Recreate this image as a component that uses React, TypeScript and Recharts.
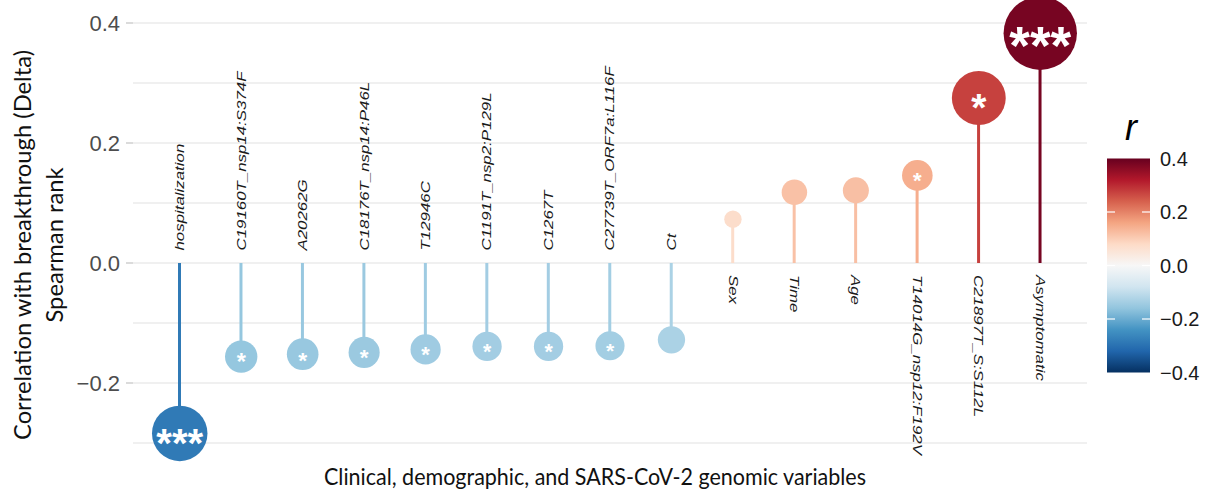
import { type CSSProperties } from 'react'
import { ComposedChart, Bar, Line, Cell, XAxis, YAxis, CartesianGrid } from 'recharts'

// variables, ordered by Spearman r
const variables = [
  'hospitalization',
  'C19160T_nsp14:S374F',
  'A20262G',
  'C18176T_nsp14:P46L',
  'T12946C',
  'C1191T_nsp2:P129L',
  'C1267T',
  'C27739T_ORF7a:L116F',
  'Ct',
  'Sex',
  'Time',
  'Age',
  'T14014G_nsp12:F192V',
  'C21897T_S:S112L',
  'Asymptomatic',
]
const spearmanR = [
  -0.284, -0.156, -0.152, -0.149, -0.144, -0.139, -0.139, -0.138, -0.128,
  0.073, 0.118, 0.121, 0.146, 0.275, 0.383,
]
const significance = ['***', '*', '*', '*', '*', '*', '*', '*', '', '', '', '', '*', '*', '***']

const yTicks = [-0.2, 0, 0.2, 0.4]
const gridValues = [-0.3, -0.2, -0.1, 0, 0.1, 0.2, 0.3, 0.4]
const legendTicks = [0.4, 0.2, 0, -0.2, -0.4]

const data = variables.map((name, i) => ({ name, r: spearmanR[i], star: significance[i] }))

// RdBu (ColorBrewer, 11 classes), blue -> red
const rdbuStops = [
  '#053061', '#2166ac', '#4393c3', '#92c5de', '#d1e5f0', '#f7f7f7',
  '#fddbc7', '#f4a582', '#d6604d', '#b2182b', '#67001f',
]

function hex(c: string) {
  return [1, 3, 5].map((k) => parseInt(c.slice(k, k + 2), 16))
}

function rdbu(v: number) {
  const t = Math.max(0, Math.min(1, (v + 0.4) / 0.8)) * (rdbuStops.length - 1)
  const i = Math.min(Math.floor(t), rdbuStops.length - 2)
  const f = t - i
  const a = hex(rdbuStops[i])
  const b = hex(rdbuStops[i + 1])
  const rgb = a.map((x, k) => Math.round(x + (b[k] - x) * f))
  return `rgb(${rgb.join(',')})`
}

const bubbleRadius = (v: number) => 2.1 + 90.3 * Math.abs(v)

const sansFont = '"Liberation Sans", Arial, sans-serif'
const titleFont = 'Lato, "Open Sans", sans-serif'

const wrapStyle: CSSProperties = {
  position: 'absolute',
  left: 0,
  top: 0,
  width: 1217,
  height: 491,
  background: '#fff',
}

function renderBubble(props: any) {
  const { cx, cy, payload, index } = props
  if (cx == null || cy == null) return <g key={`b-${index}`} />
  const rad = bubbleRadius(payload.r)
  const fs = rad * 1.45
  return (
    <g key={`b-${index}`}>
      <circle cx={cx} cy={cy} r={rad} fill={rdbu(payload.r)} />
      {payload.star ? (
        <text
          x={cx}
          y={cy + fs * 0.58}
          textAnchor="middle"
          fill="#fff"
          fontSize={fs}
          fontWeight="bold"
          fontFamily={sansFont}
        >
          {payload.star}
        </text>
      ) : null}
    </g>
  )
}

function renderName(props: any) {
  const { cx, cy, payload, index } = props
  if (cx == null || cy == null) return <g key={`n-${index}`} />
  const neg = payload.r < 0
  const y = neg ? cy - 12.5 : cy + 12
  return (
    <text
      key={`n-${index}`}
      transform={`translate(${cx},${y}) rotate(${neg ? -90 : 90}) scale(1.35,1)`}
      dy="0.35em"
      textAnchor="start"
      fontSize={12.5}
      fontStyle="italic"
      fill="#1a1a1a"
      fontFamily={sansFont}
    >
      {payload.name}
    </text>
  )
}

const fmt = (v: number) => (v < 0 ? '\u2212' + Math.abs(v).toFixed(1) : v.toFixed(1))

function Legend() {
  const top = 158.5
  const h = 214
  const x = 1107
  const w = 43
  const yOf = (v: number) => top + ((0.4 - v) / 0.8) * h
  return (
    <g>
      <defs>
        <linearGradient id="rdbu" x1="0" y1="1" x2="0" y2="0">
          {rdbuStops.map((c, i) => (
            <stop key={c} offset={i / (rdbuStops.length - 1)} stopColor={c} />
          ))}
        </linearGradient>
      </defs>
      <text x={1131} y={140} textAnchor="middle" fontSize={36} fontStyle="italic" fontFamily={sansFont} fill="#000">
        r
      </text>
      <rect x={x} y={top} width={w} height={h} fill="url(#rdbu)" />
      {legendTicks.slice(1, 4).map((v) => (
        <g key={v} stroke="#fff" strokeWidth={1.2}>
          <line x1={x} x2={x + 8} y1={yOf(v)} y2={yOf(v)} />
          <line x1={x + w - 8} x2={x + w} y1={yOf(v)} y2={yOf(v)} />
        </g>
      ))}
      {legendTicks.map((v) => (
        <text key={v} x={1160} y={yOf(v)} dy="0.36em" fontSize={20} fill="#1a1a1a" fontFamily={sansFont}>
          {fmt(v)}
        </text>
      ))}
    </g>
  )
}

export default function App() {
  return (
    <div style={wrapStyle}>
      <ComposedChart
        width={1217}
        height={491}
        data={data}
        margin={{ top: 11, right: 130, bottom: 36, left: 0 }}
      >
        <CartesianGrid vertical={false} horizontalValues={gridValues} stroke="#e2e2e2" strokeWidth={1.2} />
        <XAxis dataKey="name" type="category" hide padding={{ left: 16, right: 16 }} />
        <YAxis
          type="number"
          domain={[-0.32, 0.42]}
          ticks={yTicks}
          tickFormatter={fmt}
          width={133}
          axisLine={false}
          tickSize={7}
          tickMargin={6}
          tickLine={{ stroke: '#c4c4c4', strokeWidth: 1.2 }}
          tick={{ fill: '#4d4d4d', fontSize: 22, fontFamily: sansFont }}
        />
        <Bar dataKey="r" barSize={3} isAnimationActive={false}>
          {data.map((d) => (
            <Cell key={d.name} fill={rdbu(d.r)} />
          ))}
        </Bar>
        <Line
          dataKey="r"
          stroke="none"
          dot={renderBubble}
          activeDot={false}
          isAnimationActive={false}
        />
        <Line
          dataKey={() => 0}
          stroke="none"
          dot={renderName}
          activeDot={false}
          isAnimationActive={false}
        />
      </ComposedChart>
      <svg
        width={1217}
        height={491}
        style={{ position: 'absolute', left: 0, top: 0, pointerEvents: 'none' }}
      >
        <text
          transform="translate(31,245) rotate(-90)"
          textAnchor="middle"
          fontSize={23}
          fontFamily={titleFont}
          fill="#111"
          textLength={390}
          lengthAdjust="spacingAndGlyphs"
        >
          Correlation with breakthrough (Delta)
        </text>
        <text
          transform="translate(63,245) rotate(-90)"
          textAnchor="middle"
          fontSize={23}
          fontFamily={titleFont}
          fill="#111"
          textLength={155}
          lengthAdjust="spacingAndGlyphs"
        >
          Spearman rank
        </text>
        <text
          x={324}
          y={485}
          fontSize={23}
          fontFamily={titleFont}
          fill="#111"
          textLength={542}
          lengthAdjust="spacingAndGlyphs"
        >
          Clinical, demographic, and SARS-CoV-2 genomic variables
        </text>
        <Legend />
      </svg>
    </div>
  )
}
